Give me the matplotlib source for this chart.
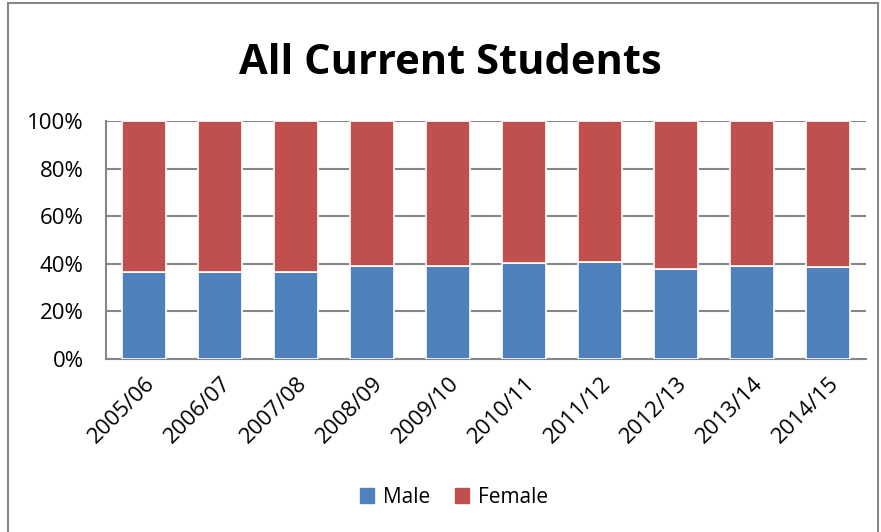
import matplotlib.pyplot as plt
from matplotlib.patches import Rectangle, Patch

years = ['2005/06', '2006/07', '2007/08', '2008/09', '2009/10',
         '2010/11', '2011/12', '2012/13', '2013/14', '2014/15']
male = [36.5, 36.6, 36.6, 38.9, 38.9, 40.3, 40.7, 37.8, 38.9, 38.6]
female = [100 - m for m in male]

plt.rcParams['font.family'] = ['Open Sans', 'DejaVu Sans']

fig = plt.figure(figsize=(8.81, 5.32), dpi=100)
ax = fig.add_axes([0.1203, 0.3252, 0.8627, 0.4474])

x = range(len(years))
ax.bar(x, male, width=0.57, color='#4F81BD', edgecolor='white', linewidth=1.2, zorder=3)
ax.bar(x, female, bottom=male, width=0.57, color='#C0504D', edgecolor='white', linewidth=1.2, zorder=3)

ax.set_xlim(-0.5, len(years) - 0.5)
ax.set_ylim(0, 100)
ax.set_yticks(range(0, 101, 20))
ax.set_yticklabels([f'{v}%' for v in range(0, 101, 20)], fontsize=16)
ax.set_xticks(list(x))
ax.set_xticklabels(years, rotation=45, ha='right', rotation_mode='anchor', fontsize=16)
ax.tick_params(axis='y', length=0, pad=16)
ax.tick_params(axis='x', length=0, pad=10)
ax.grid(axis='y', color='#868686', linewidth=1.5, zorder=0)
for s in ['top', 'right']:
    ax.spines[s].set_visible(False)
for s in ['left', 'bottom']:
    ax.spines[s].set_color('#868686')
    ax.spines[s].set_linewidth(1.5)

fig.text(0.511, 0.88, 'All Current Students', ha='center', va='center',
         fontsize=30, fontweight='bold')

handles = [Patch(color='#4F81BD', label='Male'), Patch(color='#C0504D', label='Female')]
fig.legend(handles=handles, loc='center', bbox_to_anchor=(0.515, 0.065), ncol=2,
           frameon=False, fontsize=15, handlelength=0.7, handleheight=0.7,
           handletextpad=0.4, columnspacing=1.2)

fig.patches.append(Rectangle((0.009, -0.01), 0.988, 1.005, transform=fig.transFigure,
                             fill=False, edgecolor='#868686', linewidth=1.5))

fig.savefig('out.png', dpi=100)
